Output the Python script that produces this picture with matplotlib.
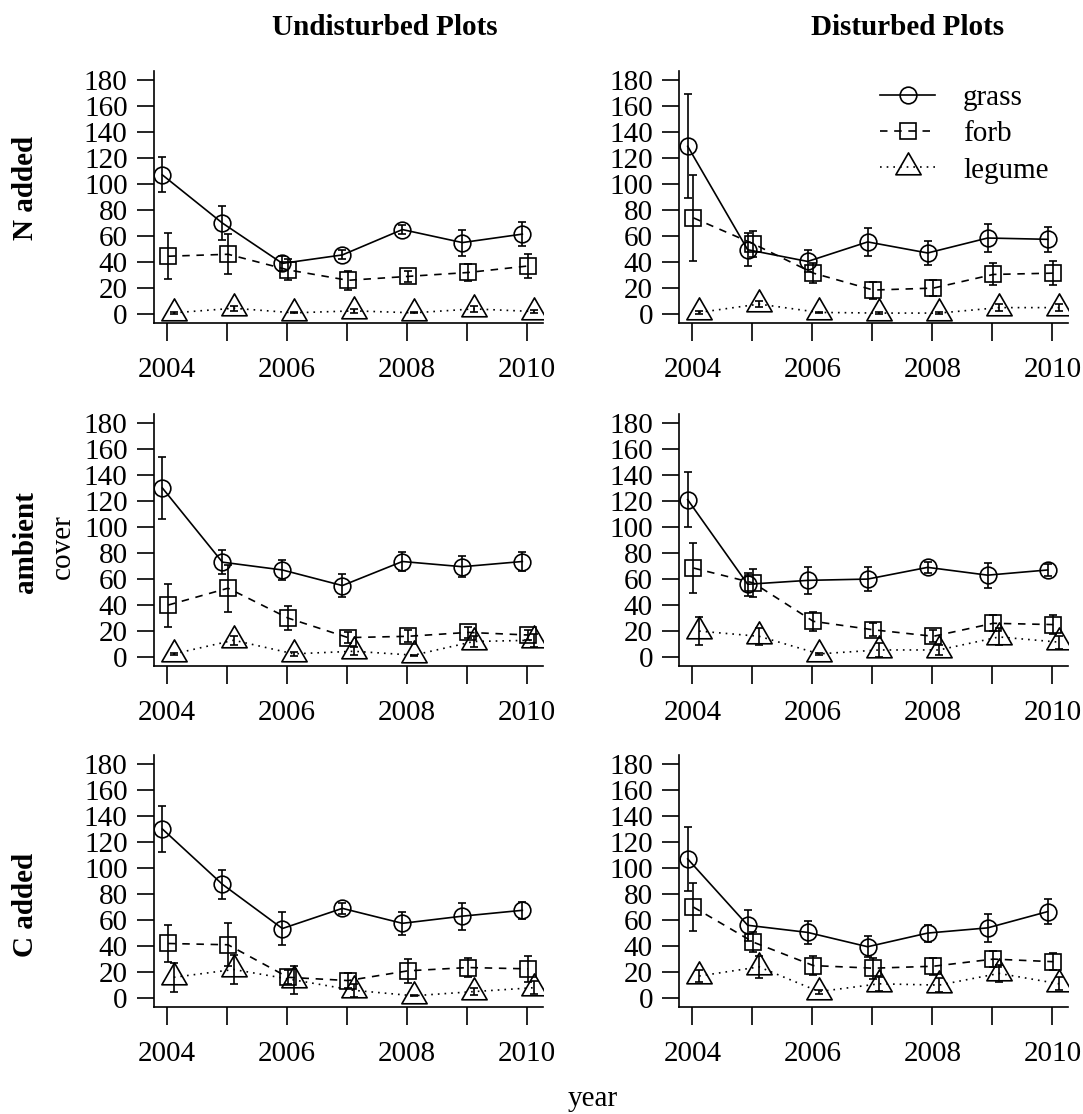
import numpy as np
import matplotlib
matplotlib.use("Agg")
import matplotlib.pyplot as plt
from matplotlib.path import Path

plt.rcParams['font.family'] = ['Liberation Serif', 'DejaVu Serif']
plt.rcParams['font.size'] = 21

years = [2004, 2005, 2006, 2007, 2008, 2009, 2010]
year_labels = ['2004', '', '2006', '', '2008', '', '2010']
y_ticks = [0, 20, 40, 60, 80, 100, 120, 140, 160, 180]
groups = ['grass', 'forb', 'legume']
treatments = ['N added', 'ambient', 'C added']
plot_types = ['Undisturbed Plots', 'Disturbed Plots']

# mean cover and standard error per functional group
n_undist_grass = [107, 70, 39, 45.5, 65, 55, 61.5]
n_undist_grass_se = [13.5, 13, 6, 3.5, 3.5, 10, 9.5]
n_undist_forb = [44.5, 46, 34, 26, 29, 32, 37]
n_undist_forb_se = [17.5, 15.5, 8, 7.5, 4.5, 6.5, 9]
n_undist_legume = [1, 4.5, 1, 2.5, 1, 4, 2]
n_undist_legume_se = [0.8, 2, 0.5, 1.5, 0.5, 2.5, 1]

n_dist_grass = [129, 49.5, 40.5, 55.5, 47, 58.5, 57.5]
n_dist_grass_se = [40, 12.5, 8.5, 10.5, 9.5, 10.5, 9.5]
n_dist_forb = [74, 54, 31.5, 18.5, 20, 30.5, 31.5]
n_dist_forb_se = [33, 10, 7.5, 6.5, 6, 8.5, 9]
n_dist_legume = [1.3, 7.7, 1.3, 0.8, 0.8, 5, 5]
n_dist_legume_se = [1, 2.5, 0.3, 0.5, 0.5, 2.5, 2.5]

amb_undist_grass = [130, 73, 67, 55, 73.5, 69.5, 73.5]
amb_undist_grass_se = [23.5, 9, 7.5, 9, 7, 8, 7.5]
amb_undist_forb = [40, 53, 30, 15, 16, 19, 17]
amb_undist_forb_se = [16.5, 18, 9.5, 4, 4.5, 4.5, 4]
amb_undist_legume = [2.5, 13, 2.5, 4.5, 1.5, 12, 13]
amb_undist_legume_se = [1, 3.5, 1.5, 3, 0.5, 4, 5]

amb_dist_grass = [121, 56, 59, 60, 69, 63, 67]
amb_dist_grass_se = [21, 9, 10.5, 9, 4.5, 9.5, 4.5]
amb_dist_forb = [68.5, 57, 27.5, 21, 16, 26, 25]
amb_dist_forb_se = [19.5, 11, 7.5, 5, 4.5, 6, 7.5]
amb_dist_legume = [20, 16, 2.5, 5.5, 5.5, 15.5, 11.5]
amb_dist_legume_se = [11, 6.5, 1, 5.5, 3.5, 6.5, 5]

c_undist_grass = [130, 87.5, 53.5, 69, 57.5, 63, 67.5]
c_undist_grass_se = [17.5, 11, 12.5, 4.5, 9, 10.5, 6.5]
c_undist_forb = [42, 41, 16, 13.5, 21, 23.5, 22.5]
c_undist_forb_se = [14, 16.5, 5.5, 5.5, 9, 7, 10]
c_undist_legume = [16, 22, 14, 6, 1.8, 5, 8]
c_undist_legume_se = [11, 11.5, 10.5, 4.8, 0.5, 2.5, 5]

c_dist_grass = [107, 56, 50.5, 39.5, 50, 54, 66.5]
c_dist_grass_se = [24.5, 12, 9, 8, 6.5, 10.5, 9.5]
c_dist_forb = [70, 43, 25, 23, 24.5, 30, 28]
c_dist_forb_se = [18.5, 7.5, 7, 8, 6.5, 6, 6.5]
c_dist_legume = [17, 24, 5, 11, 10, 19, 11]
c_dist_legume_se = [4.5, 8.5, 1.5, 5.5, 5.5, 6.5, 5]

panels = {
    (0, 0): ([n_undist_grass, n_undist_forb, n_undist_legume],
             [n_undist_grass_se, n_undist_forb_se, n_undist_legume_se]),
    (0, 1): ([n_dist_grass, n_dist_forb, n_dist_legume],
             [n_dist_grass_se, n_dist_forb_se, n_dist_legume_se]),
    (1, 0): ([amb_undist_grass, amb_undist_forb, amb_undist_legume],
             [amb_undist_grass_se, amb_undist_forb_se, amb_undist_legume_se]),
    (1, 1): ([amb_dist_grass, amb_dist_forb, amb_dist_legume],
             [amb_dist_grass_se, amb_dist_forb_se, amb_dist_legume_se]),
    (2, 0): ([c_undist_grass, c_undist_forb, c_undist_legume],
             [c_undist_grass_se, c_undist_forb_se, c_undist_legume_se]),
    (2, 1): ([c_dist_grass, c_dist_forb, c_dist_legume],
             [c_dist_grass_se, c_dist_forb_se, c_dist_legume_se]),
}

# R-style open triangle, centred on its centroid
tri = Path([(0, 1.5551), (1.3468, -0.7776), (-1.3468, -0.7776), (0, 0)],
           [Path.MOVETO, Path.LINETO, Path.LINETO, Path.CLOSEPOLY])

styles = {
    'grass': dict(ls='-', marker='o', ms=12, dx=-0.08),
    'forb': dict(ls=(0, (4.5, 4)), marker='s', ms=11.5, dx=0.015),
    'legume': dict(ls=(0, (1, 3)), marker=tri, ms=21, dx=0.11),
}

W, H = 1083, 1114
fig = plt.figure(figsize=(W / 100, H / 100), dpi=100)

col_x = [154, 679.3]
row_bottom = [322.7, 665.7, 1006.7]
ax_w, ax_h = 388.7, 251.7
LW = 1.2

axes = {}
for r in range(3):
    for c in range(2):
        ax = fig.add_axes([col_x[c] / W, 1 - row_bottom[r] / H, ax_w / W, ax_h / H])
        axes[(r, c)] = ax
        means, ses = panels[(r, c)]
        for g, m, s in zip(groups, means, ses):
            st = styles[g]
            x = np.array(years) + st['dx']
            ax.errorbar(x, m, yerr=s, fmt='none', ecolor='k', elinewidth=LW,
                        capsize=3, capthick=LW, zorder=2)
            ax.plot(x, m, color='k', ls=st['ls'], lw=LW, marker=st['marker'],
                    ms=st['ms'], mfc='none', mec='k', mew=LW, label=g, zorder=3)
        ax.set_xlim(2003.78, 2010.26)
        ax.set_ylim(-6.6, 186.9)
        ax.set_xticks(years)
        ax.set_xticklabels(year_labels)
        ax.set_yticks(y_ticks)
        for side in ['top', 'right']:
            ax.spines[side].set_visible(False)
        for side in ['left', 'bottom']:
            ax.spines[side].set_linewidth(LW)
        ax.tick_params(axis='x', length=13, width=LW, pad=12, labelsize=21)
        ax.tick_params(axis='y', length=12.5, width=LW, pad=6.5, labelsize=21)

axes[(0, 1)].legend(loc='upper left', bbox_to_anchor=(880 / W, 1 - 85 / H),
                    bbox_transform=fig.transFigure, frameon=False, fontsize=21,
                    borderpad=0, borderaxespad=0, handlelength=1.9,
                    handletextpad=0.95, labelspacing=0.33, numpoints=1)


def px(x, y):
    return x / W, 1 - y / H


# column headings
fig.text(*px(384.5, 35), plot_types[0], ha='center', va='baseline', fontweight='bold')
fig.text(*px(907.7, 35), plot_types[1], ha='center', va='baseline', fontweight='bold')

# row headings
row_label_y = [188, 542, 905]
for t, yy in zip(treatments, row_label_y):
    fig.text(*px(33, yy), t, rotation=90, rotation_mode='anchor',
             ha='center', va='baseline', fontweight='bold')
fig.text(*px(70, 547), 'cover', rotation=90, rotation_mode='anchor',
         ha='center', va='baseline')
fig.text(*px(593, 1106), 'year', ha='center', va='baseline')

fig.savefig('out.png', dpi=100)
